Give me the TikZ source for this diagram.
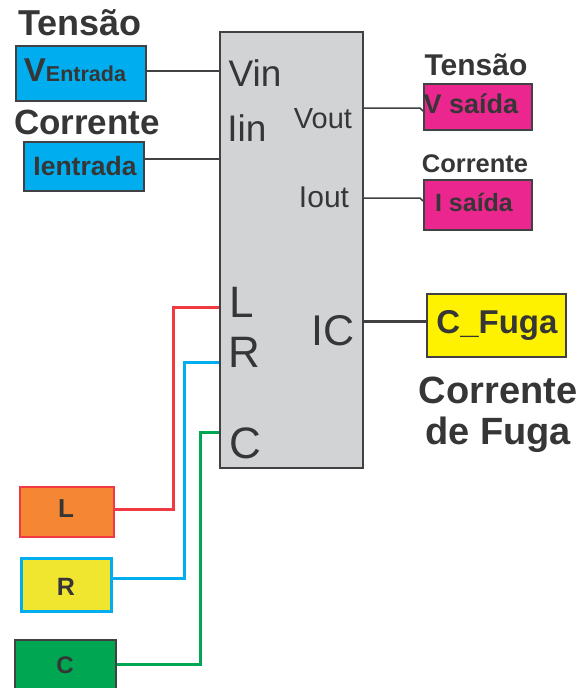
\documentclass[tikz,border=0pt]{standalone}
\usepackage{fontspec}
\setmainfont{Liberation Sans}
\definecolor{txt}{HTML}{363636}
\definecolor{edge}{HTML}{414042}
\definecolor{blockgray}{HTML}{D1D3D4}
\definecolor{cyanfill}{HTML}{00AEEF}
\definecolor{magfill}{HTML}{EC268F}
\definecolor{yelfill}{HTML}{FFF200}
\definecolor{orgfill}{HTML}{F58634}
\definecolor{redline}{HTML}{EE3A40}
\definecolor{ryel}{HTML}{F0E52F}
\definecolor{grnfill}{HTML}{00A651}
\newcommand{\fs}[1]{\fontsize{#1}{#1}\selectfont}
\tikzset{
  box/.style={draw=edge, line width=1.6pt, rectangle, inner sep=0pt, anchor=north west},
  lbl/.style={text=txt, inner sep=0pt, anchor=base},
  wire/.style={draw=edge, line width=1.5pt},
  cwire/.style={line width=3pt}
}
\begin{document}
\begin{tikzpicture}[x=1pt,y=-1pt]
\clip (0,0) rectangle (582,688);
\fill[white] (0,0) rectangle (582,688);
% main block
\node[box, fill=blockgray, minimum width=143pt, minimum height=436pt] (blk) at (219,31) {};
% left input boxes
\node[box, fill=cyanfill, minimum width=130pt, minimum height=55pt] (ve) at (15,45) {};
\node[box, fill=cyanfill, minimum width=120pt, minimum height=49pt] (ie) at (23,141) {};
\node[lbl, font=\bfseries\fs{36}] (tl) at (80,35) {Tensão};
\node[lbl, font=\bfseries\fs{35}] (cl) at (87,134) {Corrente};
\node[lbl, font=\bfseries] (vet) at (75,81) {{\fs{33}V}{\fs{21.5}Entrada}};
\node[lbl, font=\bfseries\fs{26.5}] (iet) at (85,175) {Ientrada};
% port labels
\node[lbl, font=\fs{37}] (vin) at (255,86) {Vin};
\node[lbl, font=\fs{37}] (iin) at (247,141) {Iin};
\node[lbl, font=\fs{29}] (vout) at (323,128) {Vout};
\node[lbl, font=\fs{30}] (iout) at (324,207) {Iout};
\node[lbl, font=\fs{43}] (ic) at (333,345) {IC};
\node[lbl, font=\fs{44}] (pl) at (242,317) {L};
\node[lbl, font=\fs{44}] (pr) at (244,367) {R};
\node[lbl, font=\fs{44}] (pc) at (245,458) {C};
% right output boxes
\node[box, fill=magfill, minimum width=108pt, minimum height=46pt] (vs) at (423,83) {};
\node[box, fill=magfill, minimum width=108pt, minimum height=50pt] (is) at (423,179) {};
\node[lbl, font=\bfseries\fs{30}] (tr) at (476,75) {Tensão};
\node[lbl, font=\bfseries\fs{25.5}] (cr) at (475,172) {Corrente};
\node[lbl, font=\bfseries\fs{27}] (vst) at (471,113) {V saída};
\node[lbl, font=\bfseries\fs{25}] (ist) at (474,211) {I saída};
% C_Fuga
\node[box, fill=yelfill, minimum width=139pt, minimum height=63pt] (cf) at (426,293) {};
\node[lbl, font=\bfseries\fs{33}] (cft) at (497,333) {C\_Fuga};
\node[text=txt, inner sep=0pt, align=center, font=\bfseries\fontsize{38}{41}\selectfont] (cfl) at (498,414.5) {Corrente\\de Fuga};
% L R C boxes
\node[box, draw=redline, line width=1.5pt, fill=orgfill, minimum width=94pt, minimum height=50pt] (lb) at (19,486) {};
\node[box, draw=cyanfill, line width=3pt, fill=ryel, minimum width=90pt, minimum height=53pt] (rb) at (20,557) {};
\node[box, fill=grnfill, minimum width=101pt, minimum height=56pt] (cb) at (14,639) {};
\node[lbl, font=\bfseries\fs{26}] (lbt) at (66,517) {L};
\node[lbl, font=\bfseries\fs{25}] (rbt) at (66,595) {R};
\node[lbl, font=\bfseries\fs{24}] (cbt) at (65,673) {C};
% coordinates
\coordinate (vinpin) at (219,71);
\coordinate (iinpin) at (219,159);
\coordinate (voutk) at (420,108);
\coordinate (ioutk) at (420,198);
\coordinate (icpin) at (362,321);
\coordinate (lpin) at (219,307);
\coordinate (rpin) at (219,362);
\coordinate (cpin) at (219,432);
% wires
\draw[wire] (ve.east |- vinpin) -- (vinpin);
\draw[wire] (ie.east |- iinpin) -- (iinpin);
\draw[wire] (voutk -| blk.east) -- (voutk) -- ([yshift=-3pt]voutk -| vs.west);
\draw[wire] (ioutk -| blk.east) -- (ioutk) -- ([yshift=-3pt]ioutk -| is.west);
\draw[draw=edge, line width=3pt] (icpin) -- (icpin -| cf.west);
\draw[cwire, draw=redline] ([yshift=2pt]lb.east) -| ([xshift=-46pt]lpin) -- (lpin);
\draw[cwire, draw=cyanfill] ([yshift=6.5pt]rb.east) -| ([xshift=-35pt]rpin) -- (rpin);
\draw[cwire, draw=grnfill] ([yshift=3pt]cb.east) -| ([xshift=-19pt]cpin) -- (cpin);
\end{tikzpicture}
\end{document}
